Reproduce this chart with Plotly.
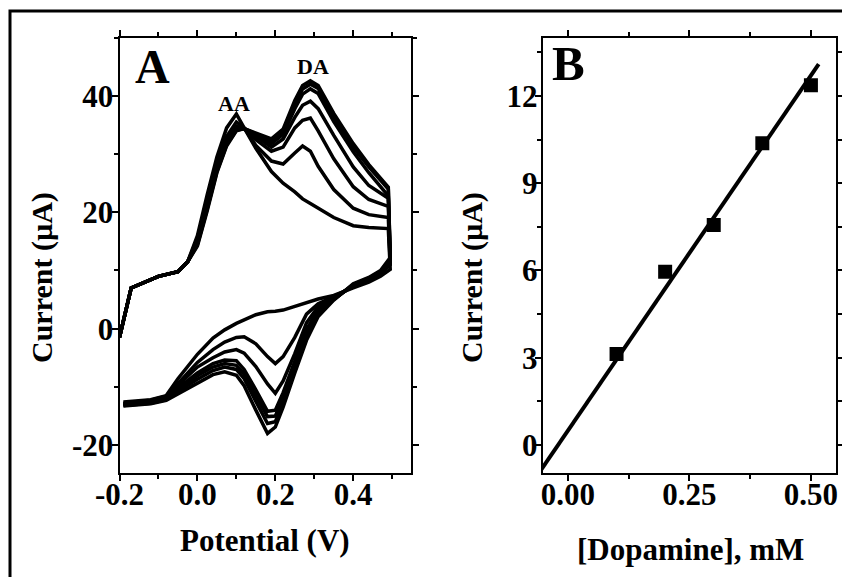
import plotly.graph_objects as go

# ---------------- Panel A: cyclic voltammograms ----------------
fwd_potential = [-0.2, -0.17, -0.1, -0.05, -0.025, 0.0, 0.025, 0.05, 0.075, 0.1, 0.12,
                 0.15, 0.19, 0.22, 0.25, 0.27, 0.29, 0.31, 0.35, 0.4, 0.44, 0.49]
rev_potential = [0.495, 0.47, 0.44, 0.4, 0.35, 0.31, 0.28, 0.25, 0.22, 0.2, 0.18,
                 0.15, 0.12, 0.1, 0.07, 0.04, 0.0, -0.05, -0.08, -0.12, -0.19]

fwd_c0 = [-1.5, 7, 9, 9.8, 11.5, 16.0, 23.0, 29.5, 34.5, 36.9, 34.5, 31.0, 27.0, 25.0, 23.5, 22.3, 21.5, 20.7, 19.1, 17.7, 17.4, 17.2]
fwd_c1 = [-1.5, 7, 9, 9.8, 11.5, 15.5, 22.0, 28.5, 33.0, 35.5, 34.5, 31.5, 28.8, 28.3, 30.2, 31.4, 30.5, 27.9, 23.9, 20.7, 19.6, 19.1]
fwd_c2 = [-1.5, 7, 9, 9.8, 11.5, 15.0, 21.5, 28.0, 32.5, 34.8, 34.4, 32.5, 30.5, 31.2, 34.5, 35.8, 36.2, 34.0, 29.2, 24.4, 22.2, 21.0]
fwd_c3 = [-1.5, 7, 9, 9.8, 11.5, 14.8, 21.0, 27.5, 32.0, 34.5, 34.4, 33.0, 31.2, 32.6, 36.3, 38.4, 39.1, 37.8, 33.2, 27.8, 24.6, 22.4]
fwd_c4 = [-1.5, 7, 9, 9.8, 11.5, 14.6, 20.8, 27.2, 31.8, 34.3, 34.4, 33.3, 31.8, 33.4, 37.8, 40.3, 41.2, 40.4, 35.6, 30.4, 26.8, 22.8]
fwd_c5 = [-1.5, 7, 9, 9.8, 11.5, 14.4, 20.5, 27.0, 31.6, 34.1, 34.4, 33.5, 32.2, 33.8, 38.6, 41.2, 42.0, 41.3, 36.4, 31.2, 27.8, 24.0]
fwd_c6 = [-1.5, 7, 9, 9.8, 11.5, 14.2, 20.2, 26.8, 31.4, 34.0, 34.4, 33.6, 32.6, 34.3, 39.2, 41.8, 42.6, 41.8, 37.0, 31.8, 28.2, 24.3]

rev_c0 = [10.2, 9.0, 8.0, 7.0, 5.7, 5.1, 4.5, 3.8, 3.2, 3.0, 2.9, 2.4, 1.5, 0.9, -0.2, -1.6, -4.4, -8.6, -11.5, -12.2, -12.6]
rev_c1 = [11.0, 9.4, 8.3, 7.2, 5.5, 4.3, 2.5, -1.5, -4.8, -6.0, -4.8, -2.6, -1.4, -1.5, -2.3, -3.6, -5.8, -9.3, -11.6, -12.3, -12.8]
rev_c2 = [11.3, 9.5, 8.4, 7.3, 5.4, 3.8, 1.0, -4.3, -9.0, -11.1, -9.5, -6.5, -4.2, -3.6, -4.0, -5.0, -6.6, -9.7, -11.8, -12.4, -12.9]
rev_c3 = [11.6, 9.6, 8.5, 7.4, 5.2, 3.3, -0.2, -5.8, -11.0, -14.0, -14.2, -10.5, -7.0, -5.5, -5.4, -6.0, -7.6, -10.2, -12.0, -12.6, -13.0]
rev_c4 = [11.8, 9.7, 8.6, 7.5, 5.1, 2.9, -0.8, -6.5, -12.0, -15.0, -15.1, -11.5, -7.8, -6.3, -6.0, -6.6, -8.1, -10.5, -12.1, -12.7, -13.1]
rev_c5 = [12.0, 9.8, 8.7, 7.6, 5.0, 2.5, -1.3, -7.0, -12.8, -16.0, -16.3, -12.5, -8.6, -7.0, -6.6, -7.2, -8.7, -10.8, -12.2, -12.8, -13.2]
rev_c6 = [12.2, 10.0, 8.8, 7.7, 4.9, 2.1, -2.0, -7.6, -13.5, -16.9, -18.0, -14.0, -9.8, -8.0, -7.4, -7.9, -9.4, -11.2, -12.3, -12.9, -13.3]

fwd_curves = [fwd_c0, fwd_c1, fwd_c2, fwd_c3, fwd_c4, fwd_c5, fwd_c6]
rev_curves = [rev_c0, rev_c1, rev_c2, rev_c3, rev_c4, rev_c5, rev_c6]

a_xticks = [-0.2, 0.0, 0.2, 0.4]
a_xticklabels = ["-0.2", "0.0", "0.2", "0.4"]
a_yticks = [-20, 0, 20, 40]
a_yticklabels = ["-20", "0", "20", "40"]

# ---------------- Panel B: calibration ----------------
dopamine_mM = [0.1, 0.2, 0.3, 0.4, 0.5]
peak_current = [3.13, 5.96, 7.56, 10.37, 12.37]
fit_slope = 24.4
fit_intercept = 0.5
fit_x = [-0.06, 0.516]
fit_y = [fit_intercept + fit_slope * v for v in fit_x]

b_xticks = [0.0, 0.25, 0.5]
b_xticklabels = ["0.00", "0.25", "0.50"]
b_yticks = [0, 3, 6, 9, 12]
b_yticklabels = ["0", "3", "6", "9", "12"]

W, H = 842, 577
FONT = "Liberation Serif"

fig = go.Figure()
for f, r in zip(fwd_curves, rev_curves):
    fig.add_trace(go.Scatter(x=fwd_potential + rev_potential, y=f + r, mode="lines",
                             line=dict(color="black", width=3.5), xaxis="x", yaxis="y",
                             showlegend=False, hoverinfo="skip"))

fig.add_trace(go.Scatter(x=fit_x, y=fit_y, mode="lines", line=dict(color="black", width=4),
                         xaxis="x2", yaxis="y2", showlegend=False))
fig.add_trace(go.Scatter(x=dopamine_mM, y=peak_current, mode="markers",
                         marker=dict(symbol="square", size=14, color="black"),
                         xaxis="x2", yaxis="y2", showlegend=False))

tickfont = dict(family=FONT, size=31, color="black", weight="bold")
common = dict(showgrid=False, zeroline=False, showline=True, linecolor="black", linewidth=2,
              mirror="allticks", ticks="outside", ticklen=6, tickwidth=2, tickcolor="black",
              tickfont=tickfont, automargin=False)

def px2x(p):
    return p / W

def px2y(p):
    return 1 - p / H

def minor(d):
    return dict(dtick=d, ticks="outside", ticklen=4, tickwidth=2, tickcolor="black")

fig.update_layout(
    width=W, height=H, autosize=False,
    margin=dict(l=0, r=0, t=0, b=0, pad=0, autoexpand=False),
    paper_bgcolor="white", plot_bgcolor="white",
    xaxis=dict(domain=[px2x(119.5), px2x(410.5)], range=[-0.2, 0.547], anchor="y",
               tickmode="array", tickvals=a_xticks, ticktext=a_xticklabels, ticklabelstandoff=-13,
               minor=dict(tickmode="linear", tick0=-0.2, **minor(0.1)), **common),
    yaxis=dict(domain=[px2y(473), px2y(37.7)], range=[-24.8, 50], anchor="x",
               tickmode="array", tickvals=a_yticks, ticktext=a_yticklabels, ticklabelstandoff=-8,
               minor=dict(tickmode="linear", tick0=0, **minor(10)), **common),
    xaxis2=dict(domain=[px2x(542.7), px2x(835.7)], range=[-0.052, 0.551], anchor="y2",
                tickmode="array", tickvals=b_xticks, ticktext=b_xticklabels, ticklabelstandoff=-13,
                minor=dict(tickmode="linear", tick0=0, **minor(0.125)), **common),
    yaxis2=dict(domain=[px2y(473), px2y(37.7)], range=[-0.96, 14.0], anchor="x2",
                tickmode="array", tickvals=b_yticks, ticktext=b_yticklabels, ticklabelstandoff=-9,
                minor=dict(tickmode="linear", tick0=0, **minor(1.5)), **common),
)

def ann(text, x, y, size, xanchor="center", yanchor="middle", angle=0):
    fig.add_annotation(text=text, x=px2x(x), y=px2y(y), xref="paper", yref="paper",
                       showarrow=False, xanchor=xanchor, yanchor=yanchor, textangle=angle,
                       font=dict(family=FONT, size=size, color="black", weight="bold"))

ann("Potential (V)", 265, 540, 31)
ann("[Dopamine], mM", 690, 549, 31)
ann("Current (µA)", 42, 278, 30, angle=-90)
ann("Current (µA)", 472, 278, 30, angle=-90)
ann("A", 133, 66, 48, xanchor="left")
ann("B", 550, 64, 49, xanchor="left")
ann("AA", 234, 103, 22)
ann("DA", 313, 66, 22)

# outer frame (top and left edges visible, rest runs off the page)
fig.add_shape(type="rect", xref="paper", yref="paper", x0=px2x(10), x1=1.05,
              y0=-0.05, y1=px2y(11), line=dict(color="black", width=3), layer="above")

fig.write_html("out.html")
